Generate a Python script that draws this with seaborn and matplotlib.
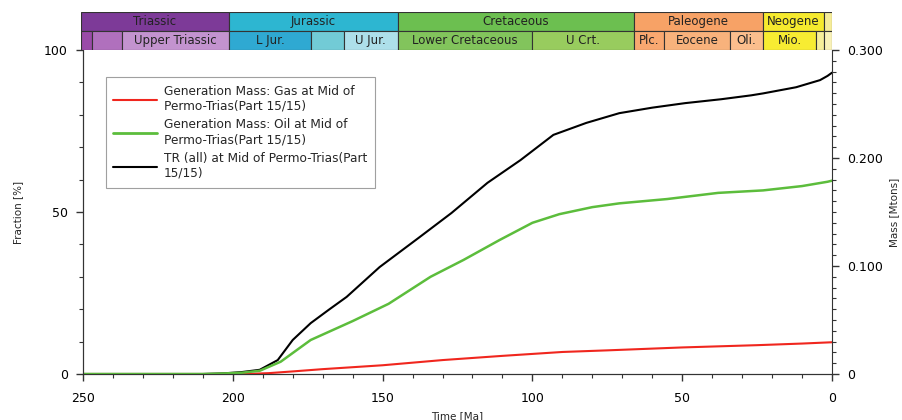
import numpy as np
import pandas as pd
import matplotlib
matplotlib.use("Agg")
import matplotlib.pyplot as plt
from matplotlib.ticker import MultipleLocator
from matplotlib.lines import Line2D
import seaborn as sns

# curves (age in Ma)
tr_age = [250, 210, 203, 197, 191, 185, 180, 174, 168, 162, 151, 138, 127, 115, 104, 93, 82, 71, 60, 49, 37, 27, 23, 12, 4, 1.5, 0]
tr_pct = [0, 0, 0.2, 0.6, 1.3, 4.3, 10.5, 15.7, 19.8, 23.8, 33, 42, 49.7, 59, 66, 73.8, 77.5, 80.5, 82.2, 83.6, 84.8, 86, 86.6, 88.5, 90.7, 92, 93]

oil_age = [250, 210, 203, 197, 191, 184, 174, 160, 148, 134, 123, 111, 100, 91, 80, 71, 55, 38, 23, 10, 1.5, 0]
oil_mass = [0, 0, 0.0005, 0.0012, 0.003, 0.0114, 0.0315, 0.049, 0.065, 0.090, 0.1056, 0.124, 0.140, 0.148, 0.1545, 0.158, 0.162, 0.1677, 0.170, 0.174, 0.178, 0.179]

gas_age = [250, 196, 188, 180, 170, 150, 130, 110, 100, 90, 75, 50, 25, 10, 0]
gas_mass = [0, 0, 0.0008, 0.0024, 0.0045, 0.0081, 0.0129, 0.0168, 0.0186, 0.0204, 0.0219, 0.0246, 0.0267, 0.0282, 0.0294]

# geologic time scale: (label, older, younger, colour)
periods = [("Triassic", 252, 201.3, "#7d3a98"), ("Jurassic", 201.3, 145, "#2db6d1"),
           ("Cretaceous", 145, 66, "#6cbf50"), ("Paleogene", 66, 23, "#f7a266"),
           ("Neogene", 23, 2.6, "#f6ea2e"), ("", 2.6, 0, "#f5ec98")]
epochs = [("", 252, 247, "#9a4ba8"), ("", 247, 237, "#b070bd"), ("Upper Triassic", 237, 201.3, "#c393cf"),
          ("L Jur.", 201.3, 174, "#2fa9d2"), ("", 174, 163, "#72cbd6"), ("U Jur.", 163, 145, "#addfea"),
          ("Lower Cretaceous", 145, 100, "#82c45c"), ("U Crt.", 100, 66, "#98cc5e"),
          ("Plc.", 66, 56, "#f9a870"), ("Eocene", 56, 34, "#f8b27c"), ("Oli.", 34, 23, "#fbbe8d"),
          ("Mio.", 23, 5.3, "#f7ec32"), ("", 5.3, 2.6, "#f6ee9a"), ("", 2.6, 0, "#f8f1b8")]

sns.set_style("ticks")
plt.rcParams['font.family'] = ['DejaVu Sans']
plt.rcParams['font.size'] = 8

fig = plt.figure(figsize=(9.03, 4.2), dpi=100)
ax = fig.add_axes([0.0919, 0.1095, 0.8295, 0.7715])
ax2 = ax.twinx()
band = fig.add_axes([0.0897, 0.881, 0.8317, 0.0905])

df_tr = pd.DataFrame({"age": tr_age, "val": tr_pct})
df_oil = pd.DataFrame({"age": oil_age, "val": oil_mass})
df_gas = pd.DataFrame({"age": gas_age, "val": gas_mass})

sns.lineplot(data=df_gas, x="age", y="val", ax=ax2, color="#f0261e", lw=1.5)
sns.lineplot(data=df_oil, x="age", y="val", ax=ax2, color="#5cbd3c", lw=1.8)
sns.lineplot(data=df_tr, x="age", y="val", ax=ax, color="black", lw=1.5)

ax.set_xlim(250, 0)
ax.set_ylim(0, 100)
ax2.set_ylim(0, 0.3)
ax.set_xticks([250, 200, 150, 100, 50, 0])
ax.xaxis.set_minor_locator(MultipleLocator(10))
ax.set_yticks([0, 50, 100])
ax.yaxis.set_minor_locator(MultipleLocator(10))
ax2.set_yticks([0, 0.1, 0.2, 0.3])
ax2.set_yticklabels(["0", "0.100", "0.200", "0.300"])
ax2.yaxis.set_minor_locator(MultipleLocator(0.01))
ax.set_xlabel("Time [Ma]", fontsize=7.5, labelpad=4)
ax.set_ylabel("Fraction [%]", fontsize=7.5, labelpad=15)
ax2.set_ylabel("Mass [Mtons]", fontsize=7.5, labelpad=4)
for a in (ax, ax2):
    a.tick_params(which="major", length=5, width=1, colors="#333333", labelsize=9, labelcolor="black", pad=6)
    a.tick_params(which="minor", length=3, width=0.8, colors="#333333")
    for s in a.spines.values():
        s.set_color("#333333")
ax.tick_params(axis="x", pad=8)
ax.spines["top"].set_visible(False)
ax2.spines["top"].set_visible(False)
ax.spines["right"].set_visible(False)

handles = [Line2D([], [], color="#f0261e", lw=1.5), Line2D([], [], color="#5cbd3c", lw=2),
           Line2D([], [], color="black", lw=1.5)]
labels = ["Generation Mass: Gas at Mid of\nPermo-Trias(Part 15/15)",
          "Generation Mass: Oil at Mid of\nPermo-Trias(Part 15/15)",
          "TR (all) at Mid of Permo-Trias(Part\n15/15)"]
leg = ax.legend(handles, labels, loc="upper left", bbox_to_anchor=(0.022, 0.935), fontsize=8.7,
                frameon=True, fancybox=False, edgecolor="#888888", handlelength=3.6,
                labelspacing=0.45, borderpad=0.65, handletextpad=0.6)
leg.get_frame().set_linewidth(0.8)

# time scale band
band.set_xlim(250.7, 0)
band.set_ylim(0, 2)
band.axis("off")
for name, old, young, col in periods:
    old = min(old, 250.7)
    band.barh(1.5, old - young, left=young, height=1, color=col, edgecolor="#333333", lw=0.8)
    if name:
        band.text((old + young) / 2, 1.5, name, ha="center", va="center", fontsize=8.5, color="#222222")
for name, old, young, col in epochs:
    old = min(old, 250.7)
    band.barh(0.5, old - young, left=young, height=1, color=col, edgecolor="#333333", lw=0.8)
    if name:
        band.text((old + young) / 2, 0.5, name, ha="center", va="center", fontsize=8.5, color="#222222")

fig.savefig("out.png", dpi=100)
